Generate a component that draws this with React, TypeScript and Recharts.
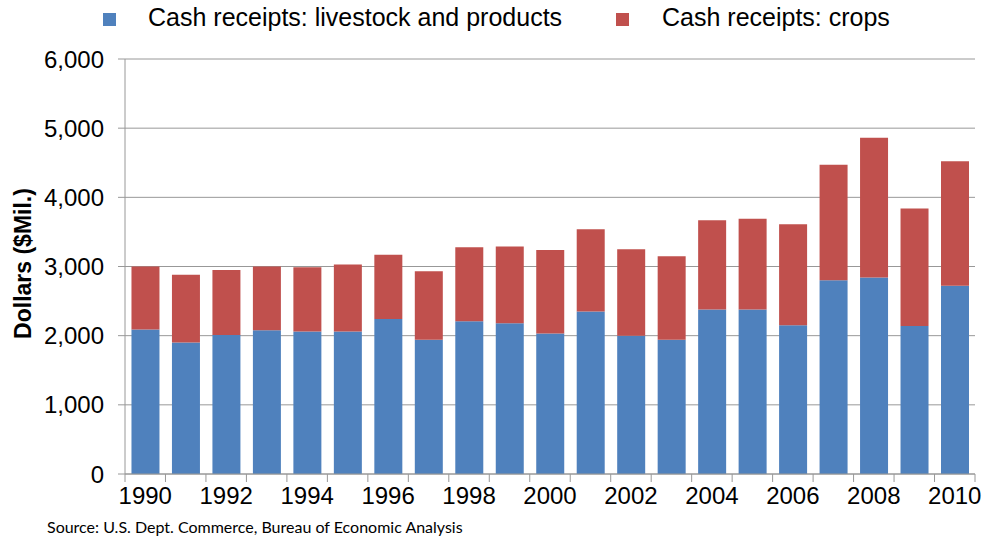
import React from 'react';
import { BarChart, Bar, XAxis, YAxis, CartesianGrid } from 'recharts';

const years = ['1990', '1991', '1992', '1993', '1994', '1995', '1996', '1997', '1998', '1999', '2000',
  '2001', '2002', '2003', '2004', '2005', '2006', '2007', '2008', '2009', '2010'];
const livestock = [2090, 1900, 2010, 2080, 2060, 2060, 2240, 1940, 2210, 2180, 2030,
  2350, 2000, 1940, 2380, 2380, 2150, 2800, 2840, 2140, 2720];
const crops = [910, 980, 940, 920, 930, 970, 930, 990, 1070, 1110, 1210,
  1190, 1250, 1210, 1290, 1310, 1460, 1670, 2020, 1700, 1800];
const yTicks = [0, 1000, 2000, 3000, 4000, 5000, 6000];

const data = years.map((year, i) => ({ year, livestock: livestock[i], crops: crops[i] }));

const W = 982;
const H = 538;
const LEFT = 125;
const RIGHT = 7;
const BAND = (W - LEFT - RIGHT) / years.length;
const FONT = '"Liberation Sans", Arial, sans-serif';
const BLUE = '#4F81BD';
const RED = '#C0504D';
const GRID = '#989898';

// tick marks sit on the category boundaries, labels on every other bar
const YearTick = (props: any) => {
  const { x, y, payload, index } = props;
  const left = x - BAND / 2;
  const isLast = index === years.length - 1;
  return (
    <g>
      <line x1={left} x2={left} y1={y - 13} y2={y - 5} stroke={GRID} />
      {isLast && <line x1={x + BAND / 2} x2={x + BAND / 2} y1={y - 13} y2={y - 5} stroke={GRID} />}
      {Number(payload.value) % 2 === 0 && (
        <text x={x} y={y} dy="0.71em" textAnchor="middle" fontSize={24} fill="#000" fontFamily={FONT}>
          {payload.value}
        </text>
      )}
    </g>
  );
};

const legendItems = [
  { label: 'Cash receipts: livestock and products', color: BLUE, x: 103, tx: 148 },
  { label: 'Cash receipts: crops', color: RED, x: 616, tx: 662 },
];

export default function App() {
  return (
    <div style={{ position: 'absolute', left: 0, top: 0, width: W, height: H, fontFamily: FONT, background: '#fff' }}>
      <BarChart
        width={W}
        height={H}
        data={data}
        margin={{ top: 59, right: RIGHT, bottom: 0, left: 0 }}
        barCategoryGap="16%"
      >
        <CartesianGrid vertical={false} stroke={GRID} />
        <XAxis
          dataKey="year"
          height={64}
          interval={0}
          tickLine={false}
          tickSize={8}
          tickMargin={5}
          stroke={GRID}
          tick={<YearTick />}
        />
        <YAxis
          width={LEFT}
          domain={[0, 6000]}
          ticks={yTicks}
          tickSize={7}
          tickMargin={14}
          stroke={GRID}
          tick={{ fontSize: 24, fill: '#000', fontFamily: FONT }}
          tickFormatter={(v: number) => v.toLocaleString('en-US')}
          label={{
            content: ({ viewBox }: any) => (
              <text
                x={23}
                y={viewBox.y + viewBox.height / 2 - 3}
                transform={`rotate(-90, 23, ${viewBox.y + viewBox.height / 2 - 3})`}
                textAnchor="middle"
                dominantBaseline="central"
                fontSize={23}
                fontWeight="bold"
                fontFamily={FONT}
                fill="#000"
              >
                Dollars ($Mil.)
              </text>
            ),
          }}
        />
        <Bar dataKey="livestock" stackId="a" fill={BLUE} isAnimationActive={false} />
        <Bar dataKey="crops" stackId="a" fill={RED} isAnimationActive={false} />
      </BarChart>
      {legendItems.map((item) => (
        <React.Fragment key={item.label}>
          <div style={{ position: 'absolute', left: item.x, top: 13, width: 13, height: 13, background: item.color }} />
          <div style={{ position: 'absolute', left: item.tx, top: 3, fontSize: 25, lineHeight: '29px', color: '#000', whiteSpace: 'nowrap' }}>
            {item.label}
          </div>
        </React.Fragment>
      ))}
      <div style={{ position: 'absolute', left: 47, top: 517, fontSize: 16, fontFamily: 'Lato, "Open Sans", sans-serif', color: '#000', whiteSpace: 'nowrap' }}>
        Source: U.S. Dept. Commerce, Bureau of Economic Analysis
      </div>
    </div>
  );
}
